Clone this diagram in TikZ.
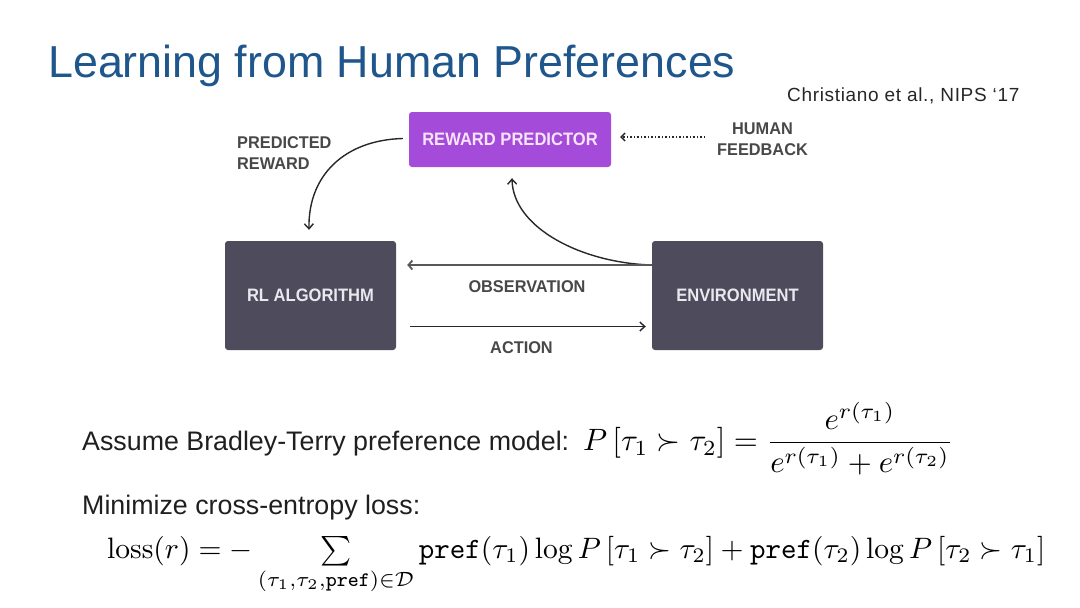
\documentclass[tikz,border=0pt]{standalone}
\usepackage[no-math]{fontspec}
\usepackage{graphicx}
\setmainfont{Liberation Sans}
\newfontfamily\diagfont[FakeStretch=0.92]{Liberation Sans}
\newfontfamily\lblfont[FakeStretch=0.96]{Liberation Sans}
\newfontfamily\citefont[LetterSpace=3.5]{Liberation Sans}
\usetikzlibrary{arrows.meta}
\definecolor{titleblue}{RGB}{31,86,140}
\definecolor{rppurple}{RGB}{164,75,218}
\definecolor{rptext}{RGB}{248,228,250}
\definecolor{darkbox}{RGB}{78,76,92}
\definecolor{darktext}{RGB}{232,232,238}
\definecolor{lblgray}{RGB}{72,72,72}
\definecolor{arrowc}{RGB}{40,40,40}
\definecolor{obsc}{RGB}{88,88,92}
\begin{document}
\begin{tikzpicture}[x=1pt,y=-1pt,
  rpbox/.style={draw=none, fill=rppurple, rounded corners=3pt, minimum width=202pt, minimum height=55pt, inner sep=0pt, text=rptext, font=\diagfont\bfseries\fontsize{18}{21}\selectfont},
  darkbx/.style={draw=none, fill=darkbox, rounded corners=3pt, minimum width=171pt, minimum height=109pt, inner sep=0pt, text=darktext, font=\diagfont\bfseries\fontsize{18}{21}\selectfont},
  lbl/.style={inner sep=0pt, text=lblgray, font=\lblfont\bfseries\fontsize{17}{21}\selectfont},
  conn/.style={draw=arrowc, line width=1.4pt, -{Straight Barb[length=5pt,width=9pt,line width=1.4pt]}},
  obsconn/.style={draw=obsc, line width=2.4pt, -{Straight Barb[length=4pt,width=9pt,line width=1.8pt]}},
  dotconn/.style={draw=arrowc, line width=1.3pt, dash pattern=on 1.3pt off 2.2pt, -{Straight Barb[length=4pt,width=8pt,line width=1.3pt]}},
  body/.style={inner sep=0pt, text=black!88, font=\fontsize{26.8}{32}\selectfont},
  mathnode/.style={inner sep=0pt, anchor=north west}
]
\useasboundingbox (0,0) rectangle (1080,608);

% title and citation
\node[anchor=base west, inner sep=0pt, text=titleblue, font=\fontsize{44.8}{54}\selectfont] (title) at (48,77) {Learning from Human Preferences};
\node[anchor=base west, inner sep=0pt, text=black!85, font=\citefont\fontsize{19}{23}\selectfont] (cite) at (787,101.5) {Christiano et al., NIPS ‘17};

% diagram boxes
\node[rpbox] (rp) at (510,139.5) {REWARD PREDICTOR};
\node[darkbx] (rl) at (310.5,295.5) {RL ALGORITHM};
\node[darkbx] (env) at (737.5,295.5) {ENVIRONMENT};

% labels
\node[lbl, anchor=north west, align=left] (pr) at (237,136) {PREDICTED\\REWARD};
\node[lbl, anchor=north, align=center] (hf) at (762.5,123) {HUMAN\\FEEDBACK};
\node[lbl, anchor=north] (obs) at (527,280) {OBSERVATION};
\node[lbl, anchor=north] (act) at (521.5,341) {ACTION};

% connectors
\coordinate (hfin) at (705,137);
\draw[dotconn] (hfin) -- ([xshift=9pt,yshift=2.5pt]rp.east);
\draw[conn] ([xshift=-6pt,yshift=1pt]rp.west) .. controls (345,140) and (308,175) .. ([xshift=-1.5pt,yshift=11pt]rl.north);
\draw[conn] ([yshift=30.5pt]env.west) .. controls (582,263) and (513,228) .. ([xshift=2pt,yshift=-11pt]rp.south);
\draw[obsconn] ([yshift=30.5pt]env.west) -- ([xshift=11pt,yshift=30.5pt]rl.east);
\draw[conn] ([xshift=14pt,yshift=-31pt]rl.east) -- ([xshift=-6pt,yshift=-31pt]env.west);

% formulas
\node[body, anchor=base west] (assume) at (82,450) {Assume Bradley-Terry preference model:};
\node[mathnode] (bt) at (583,402) {\resizebox{370pt}{!}{$\displaystyle P\left[\tau_1\succ\tau_2\right] = \frac{e^{r(\tau_1)}}{e^{r(\tau_1)}+e^{r(\tau_2)}}$}};
\node[body, anchor=base west] (minim) at (82,514) {Minimize cross-entropy loss:};
\node[mathnode] (loss) at (107,536) {\resizebox{938pt}{!}{$\mathrm{loss}(r) = -\sum\limits_{(\tau_1,\tau_2,\mathtt{pref})\in\mathcal{D}} \mathtt{pref}(\tau_1)\log P\left[\tau_1\succ\tau_2\right] + \mathtt{pref}(\tau_2)\log P\left[\tau_2\succ\tau_1\right]$}};
\end{tikzpicture}
\end{document}
